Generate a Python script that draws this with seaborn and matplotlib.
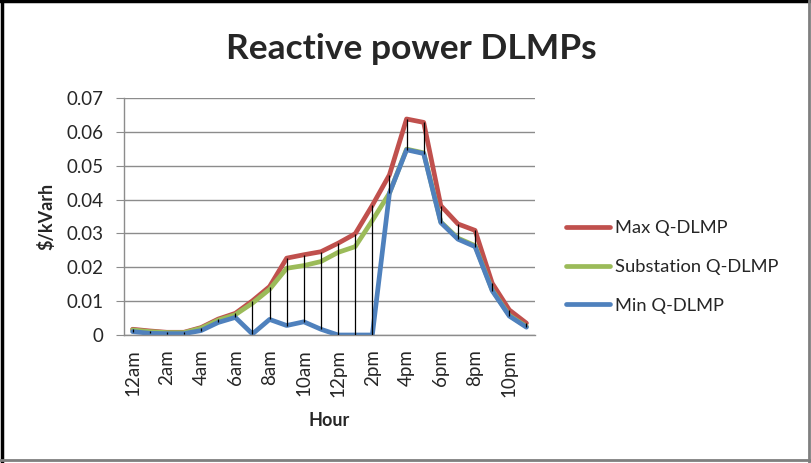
import matplotlib
matplotlib.use("Agg")
import matplotlib.pyplot as plt
import pandas as pd
import seaborn as sns
from matplotlib.lines import Line2D

RED = "#C0504D"
GREEN = "#9BBB59"
BLUE = "#4F81BD"
GRID = "#8C8C8C"

HOURS = ["12am", "1am", "2am", "3am", "4am", "5am", "6am", "7am", "8am", "9am",
         "10am", "11am", "12pm", "1pm", "2pm", "3pm", "4pm", "5pm", "6pm", "7pm",
         "8pm", "9pm", "10pm", "11pm"]

max_q = [0.0017, 0.0012, 0.0008, 0.0008, 0.0022, 0.0047, 0.0064, 0.0101,
         0.0143, 0.0227, 0.0237, 0.0246, 0.0271, 0.0299, 0.0383, 0.0473,
         0.0638, 0.0628, 0.0382, 0.0328, 0.0309, 0.0153, 0.0074, 0.0035]
sub_q = [0.0015, 0.0010, 0.0007, 0.0007, 0.0020, 0.0044, 0.0060, 0.0094,
         0.0135, 0.0197, 0.0205, 0.0217, 0.0244, 0.0261, 0.0338, 0.0419,
         0.0549, 0.0538, 0.0334, 0.0286, 0.0264, 0.0133, 0.0058, 0.0025]
min_q = [0.0010, 0.0005, 0.0004, 0.0004, 0.0013, 0.0037, 0.0052, 0.0003,
         0.0046, 0.0028, 0.0039, 0.0017, 0.0000, 0.0000, 0.0000, 0.0419,
         0.0547, 0.0536, 0.0332, 0.0283, 0.0261, 0.0131, 0.0056, 0.0023]

SERIES = ["Max Q-DLMP", "Substation Q-DLMP", "Min Q-DLMP"]

sns.set_style("white")
plt.rcParams["font.family"] = ["Lato", "DejaVu Sans"]

idx = list(range(len(HOURS)))
df = pd.concat([
    pd.DataFrame({"hour": idx, "value": vals, "series": name})
    for name, vals in zip(SERIES, [max_q, sub_q, min_q])
])

fig = plt.figure(figsize=(8.12, 4.63), dpi=100)
ax = fig.add_axes([124 / 812, 1 - 335 / 463, 411 / 812, 237 / 463])

sns.lineplot(data=df, x="hour", y="value", hue="series", hue_order=SERIES,
             palette=[RED, GREEN, BLUE], lw=3.4, ax=ax,
             solid_joinstyle="round", solid_capstyle="round")

# high-low lines
ax.vlines(idx, min_q, max_q, color="black", lw=0.9, zorder=5)

ax.set_xlim(-0.5, len(HOURS) - 0.5)
ax.set_ylim(0, 0.07)
ax.set_yticks([i / 100 for i in range(8)])
ax.set_yticklabels(["0"] + [f"0.0{i}" for i in range(1, 8)])
ax.set_xticks(idx[::2])
ax.set_xticklabels(HOURS[::2], rotation=90)
ax.yaxis.grid(True, color=GRID, lw=1)
ax.tick_params(axis="y", length=6, color=GRID, labelsize=13.5, pad=9, left=True)
ax.tick_params(axis="x", length=0, labelsize=13.5, pad=10)
for s in ["top", "right"]:
    ax.spines[s].set_visible(False)
for s in ["left", "bottom"]:
    ax.spines[s].set_color(GRID)
    ax.spines[s].set_linewidth(1)

ax.set_xlabel("Hour", fontsize=13, fontweight="bold", labelpad=11)
ax.set_ylabel("\\$/kVarh", fontsize=13, fontweight="bold", labelpad=8)

sns.move_legend(ax, "center left", bbox_to_anchor=(557 / 812, 1 - 267 / 463),
                bbox_transform=fig.transFigure, title=None, frameon=False,
                fontsize=13.2, handlelength=2.4, handletextpad=0.25,
                labelspacing=1.25, borderpad=0)
for h in ax.get_legend().legend_handles:
    h.set_linewidth(3.4)

fig.text(411 / 812, 1 - 49 / 463, "Reactive power DLMPs", ha="center",
         va="center", fontsize=25.5, fontweight="bold")

# chart frame
fig.add_artist(Line2D([0.002, 0.002], [0, 1], color="black", lw=2.5))
fig.add_artist(Line2D([0, 1], [0.997, 0.997], color="black", lw=2.5))
fig.add_artist(Line2D([809 / 812, 809 / 812], [0, 1], color="#7F7F7F", lw=2))
fig.add_artist(Line2D([0, 1], [1 - 460 / 463, 1 - 460 / 463], color="#7F7F7F", lw=2))

fig.savefig("out.png", dpi=100)
